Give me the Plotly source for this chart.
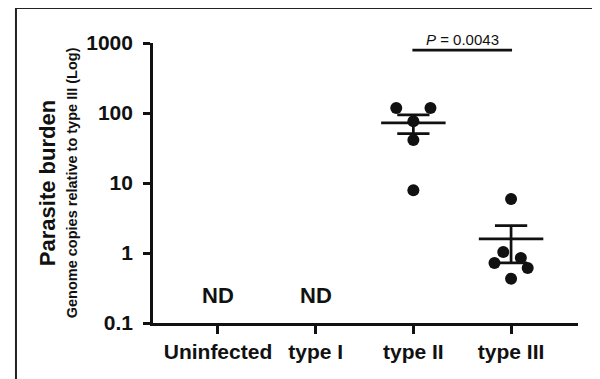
import numpy as np
import plotly.graph_objects as go

categories = ["Uninfected", "type I", "type II", "type III"]
type2_values = [118, 118, 76, 41, 7.9]
type2_offsets = [-0.175, 0.175, 0.0, 0.0, 0.0]
type3_values = [5.9, 1.03, 0.72, 0.85, 0.61, 0.43]
type3_offsets = [0.0, -0.08, -0.17, 0.10, 0.17, 0.0]
nd_groups = ["Uninfected", "type I"]
y_tickvals = [0.1, 1, 10, 100, 1000]
y_ticktext = ["0.1", "1", "10", "100", "1000"]
p_text = "<i>P</i> = 0.0043"

FONT = "Liberation Sans, Arial, sans-serif"
INK = "#111111"

fig = go.Figure()

groups = [(2, type2_values, type2_offsets), (3, type3_values, type3_offsets)]
for gi, vals, offs in groups:
    v = np.array(vals, dtype=float)
    m = v.mean()
    sem = v.std(ddof=1) / np.sqrt(len(v))
    xs = [gi - 0.33, gi + 0.33, None,
          gi, gi, None,
          gi - 0.165, gi + 0.165, None,
          gi - 0.165, gi + 0.165]
    ys = [m, m, None,
          m - sem, m + sem, None,
          m + sem, m + sem, None,
          m - sem, m - sem]
    fig.add_trace(go.Scatter(x=xs, y=ys, mode="lines",
                             line=dict(color=INK, width=2.7),
                             hoverinfo="skip", showlegend=False))
    fig.add_trace(go.Scatter(x=[gi + o for o in offs], y=vals, mode="markers",
                             marker=dict(color=INK, size=12, line=dict(width=0)),
                             showlegend=False))

# significance bracket
fig.add_trace(go.Scatter(x=[1.99, 3.01], y=[790, 790], mode="lines",
                         line=dict(color=INK, width=2.7),
                         hoverinfo="skip", showlegend=False))
fig.add_annotation(x=2.5, y=2.905, xref="x", yref="y", text=p_text,
                   showarrow=False, font=dict(family=FONT, size=15, color=INK),
                   xanchor="center", yanchor="bottom")

for g in nd_groups:
    fig.add_annotation(x=categories.index(g), y=-0.614, xref="x", yref="y",
                       text="<b>ND</b>", showarrow=False,
                       xanchor="center", yanchor="middle",
                       font=dict(family=FONT, size=22, color=INK))

# y titles
fig.add_annotation(x=-0.249, y=0.5, xref="paper", yref="paper",
                   text="<b>Parasite burden</b>", textangle=-90, showarrow=False,
                   xanchor="center", yanchor="middle",
                   font=dict(family=FONT, size=22, color=INK))
fig.add_annotation(x=-0.19, y=0.5, xref="paper", yref="paper",
                   text="<b>Genome copies relative to type III (Log)</b>",
                   textangle=-90, showarrow=False,
                   xanchor="center", yanchor="middle",
                   font=dict(family=FONT, size=14.5, color=INK))

# outer frame (top and left edges)
fig.add_shape(type="line", xref="paper", yref="paper",
              x0=-0.3224, x1=1.1, y0=1.127, y1=1.127,
              line=dict(color="#222222", width=3))
fig.add_shape(type="line", xref="paper", yref="paper",
              x0=-0.3224, x1=-0.3224, y0=1.127, y1=-0.25,
              line=dict(color="#222222", width=2))

fig.update_layout(
    width=600, height=379,
    margin=dict(l=145, r=30, t=35, b=64),
    paper_bgcolor="white", plot_bgcolor="white",
    font=dict(family=FONT, color=INK),
    showlegend=False,
)
fig.update_xaxes(
    range=[-0.665, 3.685], tickvals=list(range(len(categories))),
    ticktext=["<b>%s</b>" % c for c in categories],
    tickfont=dict(family=FONT, size=21, color=INK),
    showgrid=False, zeroline=False, showline=True, linecolor=INK, linewidth=2.7,
    ticks="outside", ticklen=8, tickwidth=2.7, tickcolor=INK,
)
fig.update_yaxes(
    type="log", range=[-1, 3], tickvals=y_tickvals,
    ticktext=["<b>%s</b>" % t for t in y_ticktext],
    tickfont=dict(family=FONT, size=21, color=INK),
    showgrid=False, zeroline=False, showline=True, linecolor=INK, linewidth=2.7,
    ticks="outside", ticklen=7, tickwidth=2.7, tickcolor=INK,
    ticklabelstandoff=6,
)

fig.write_html("out.html")
